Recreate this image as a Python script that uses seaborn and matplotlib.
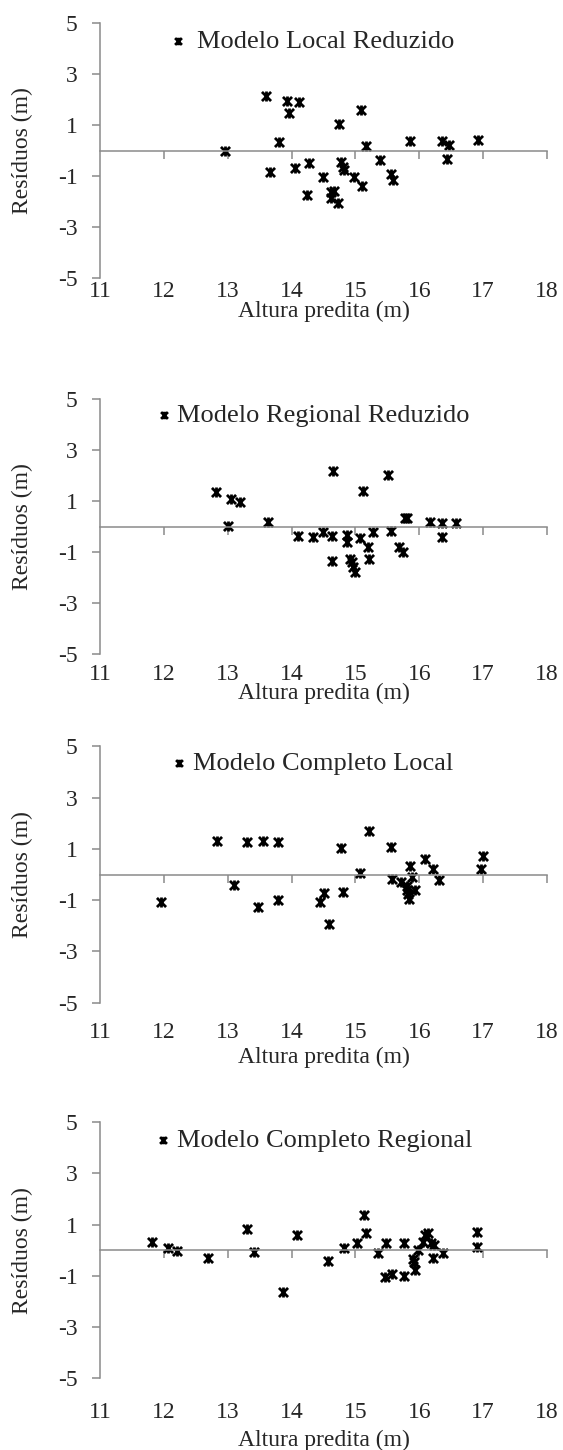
import numpy as np
import pandas as pd
import matplotlib
matplotlib.use("Agg")
import matplotlib.pyplot as plt
import seaborn as sns
from matplotlib.path import Path

# ---------------- data ----------------
titles = ["Modelo Local Reduzido", "Modelo Regional Reduzido",
          "Modelo Completo Local", "Modelo Completo Regional"]

p1_x = [12.96, 13.60, 13.93, 14.12, 13.96, 13.80, 13.66, 14.06, 14.28, 14.24, 14.49,
        14.75, 14.78, 14.80, 14.82, 14.61, 14.66, 14.61, 14.72, 14.97, 15.11, 15.09,
        15.17, 15.38, 15.55, 15.59, 15.85, 16.36, 16.46, 16.43, 16.92]
p1_y = [0.00, 2.13, 1.96, 1.91, 1.50, 0.33, -0.82, -0.68, -0.46, -1.74, -1.01,
        1.05, -0.42, -0.64, -0.75, -1.60, -1.56, -1.87, -2.03, -1.01, -1.37, 1.61,
        0.17, -0.35, -0.90, -1.16, 0.39, 0.39, 0.21, -0.31, 0.43]

p2_x = [12.82, 13.05, 13.19, 13.01, 13.63, 14.10, 14.33, 14.50, 14.63, 14.65, 14.64,
        14.87, 14.87, 14.91, 14.95, 14.96, 14.99, 15.07, 15.12, 15.20, 15.21, 15.28,
        15.51, 15.55, 15.68, 15.75, 15.77, 15.81, 16.16, 16.35, 16.35, 16.58]
p2_y = [1.34, 1.08, 0.95, 0.04, 0.17, -0.37, -0.39, -0.20, -0.37, 2.18, -1.33,
        -0.33, -0.59, -1.27, -1.37, -1.57, -1.76, -0.43, 1.40, -0.78, -1.27, -0.20,
        2.02, -0.17, -0.80, -0.98, 0.33, 0.33, 0.20, 0.16, -0.39, 0.13]

p3_x = [11.95, 12.83, 13.10, 13.30, 13.48, 13.56, 13.78, 13.78, 14.44, 14.51, 14.59,
        14.78, 14.81, 15.07, 15.21, 15.56, 15.57, 15.72, 15.80, 15.81, 15.83, 15.84,
        15.85, 15.89, 15.93, 16.09, 16.21, 16.31, 16.96, 16.99]
p3_y = [-1.05, 1.33, -0.39, 1.29, -1.27, 1.31, 1.27, -0.98, -1.05, -0.72, -1.92,
        1.03, -0.69, 0.07, 1.70, 1.07, -0.17, -0.27, -0.43, -0.62, -0.75, -0.95,
        0.35, -0.10, -0.59, 0.59, 0.20, -0.20, 0.20, 0.74]

p4_x = [11.81, 12.06, 12.21, 12.69, 13.30, 13.41, 13.87, 14.09, 14.57, 14.82, 15.02,
        15.13, 15.17, 15.36, 15.48, 15.46, 15.57, 15.76, 15.76, 15.94, 15.90, 15.92,
        15.98, 16.06, 16.09, 16.13, 16.18, 16.23, 16.22, 16.37, 16.91, 16.91]
p4_y = [0.31, 0.08, -0.04, -0.31, 0.81, -0.07, -1.63, 0.61, -0.42, 0.07, 0.29,
        1.38, 0.68, -0.13, 0.26, -1.04, -0.94, 0.26, -1.00, -0.78, -0.35, -0.46,
        0.00, 0.33, 0.59, 0.65, 0.26, 0.20, -0.30, -0.13, 0.69, 0.13]

x_ticks = [11, 12, 13, 14, 15, 16, 17, 18]
y_ticks = [5, 3, 1, -1, -3, -5]
x_label = "Altura predita (m)"
y_label = "Resíduos (m)"

xs = [p1_x, p2_x, p3_x, p4_x]
ys = [p1_y, p2_y, p3_y, p4_y]

# ---------------- layout (pixels) ----------------
W, H = 563, 1450
ax_left, ax_right = 100, 547
ax_tops = [23.3, 399.0, 746.5, 1122.0]
ax_bots = [278.3, 654.3, 1002.7, 1378.3]
tick_centers = [289, 672, 1030, 1410]
label_centers = [311, 693, 1057, 1440]
leg_marker_x = [178, 164, 179, 163]
leg_text_x = [197, 177, 193, 177]
leg_y = [41, 415, 763, 1140]

sns.set_theme(style="white")
plt.rcParams["font.family"] = ["Liberation Serif", "DejaVu Serif"]
plt.rcParams["axes.unicode_minus"] = False

star = Path([(-1, -1), (1, 1), (-1, 1), (1, -1), (0, -1.1), (0, 1.1)],
            [Path.MOVETO, Path.LINETO, Path.MOVETO, Path.LINETO, Path.MOVETO, Path.LINETO])

axis_grey = "#8a8a8a"
fs_tick = 17
fs_leg = 19

fig = plt.figure(figsize=(W / 100, H / 100), dpi=100)

for i in range(4):
    top, bot = ax_tops[i], ax_bots[i]
    h = bot - top
    ax = fig.add_axes([ax_left / W, (H - bot) / H, (ax_right - ax_left) / W, h / H])
    df = pd.DataFrame({"x": xs[i], "y": ys[i]})
    sns.scatterplot(data=df, x="x", y="y", ax=ax, marker=star, s=52,
                    color="black", edgecolor="black", linewidth=2.0,
                    label=titles[i], legend=False)
    ax.set_xlim(11, 18)
    ax.set_ylim(-5, 5)

    for s in ["top", "right"]:
        ax.spines[s].set_visible(False)
    ax.spines["left"].set_color(axis_grey)
    ax.spines["left"].set_linewidth(1.1)
    ax.spines["bottom"].set_position(("data", 0))
    ax.spines["bottom"].set_color(axis_grey)
    ax.spines["bottom"].set_linewidth(1.1)

    ax.set_yticks(y_ticks)
    ax.set_yticklabels([str(v) for v in y_ticks])
    ax.tick_params(axis="y", direction="out", length=6, width=1.1, color=axis_grey,
                   labelsize=fs_tick, pad=10, left=True)
    ax.set_xticks(x_ticks[1:])
    ax.tick_params(axis="x", direction="out", length=5.5, width=1.1, color=axis_grey,
                   labelbottom=False, bottom=True)

    # tick labels placed at the low position, below the plot area
    sec = ax.secondary_xaxis("bottom")
    sec.set_xticks(x_ticks)
    sec.set_xticklabels([str(v) for v in x_ticks])
    sec.spines["bottom"].set_visible(False)
    pad_px = tick_centers[i] - bot - 8
    sec.tick_params(axis="x", length=0, labelsize=fs_tick, pad=max(pad_px, 0) * 0.72)

    ax.set_xlabel(x_label, fontsize=fs_tick)
    ax.xaxis.set_label_coords(0.5, (bot - label_centers[i]) / h)
    ax.xaxis.label.set_va("center")
    ax.set_ylabel(y_label, fontsize=fs_tick)
    ax.yaxis.set_label_coords((22 - ax_left) / (ax_right - ax_left), 0.5)
    ax.yaxis.label.set_va("center")

    fs_px = fs_leg / 0.72
    hl = 0.5
    gap = leg_text_x[i] - leg_marker_x[i]
    htp = (gap - hl * fs_px / 2) / fs_px
    bx = (leg_marker_x[i] - hl * fs_px / 2 - ax_left) / (ax_right - ax_left)
    by = (bot - leg_y[i]) / h
    ax.legend(loc="center left", bbox_to_anchor=(bx, by), frameon=False,
              fontsize=fs_leg, handlelength=hl, handletextpad=htp,
              borderpad=0, borderaxespad=0, markerscale=0.75)

fig.savefig("out.png", dpi=100, facecolor="white")
